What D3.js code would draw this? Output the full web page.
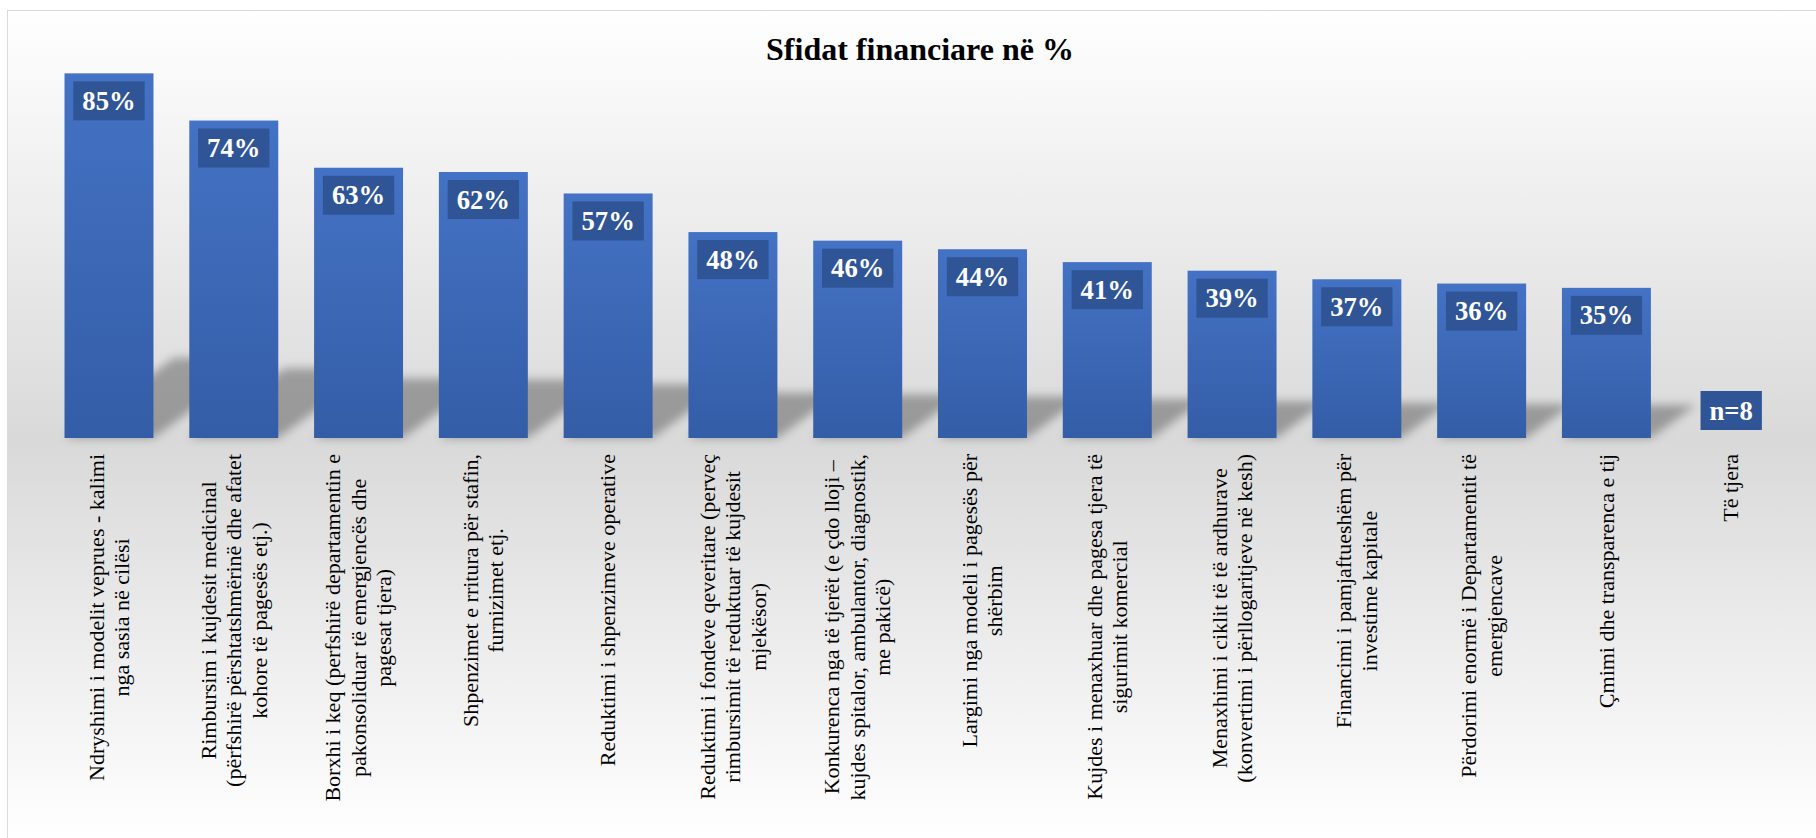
<!DOCTYPE html>
<html>
<head>
<meta charset="utf-8">
<script src="https://cdn.jsdelivr.net/npm/d3@7"></script>
<style>
  body { margin: 0; background: #ffffff; }
  svg { display: block; }
</style>
</head>
<body>
<script>
// chart data
var title = "Sfidat financiare në %";

var categories = [
    ["Ndryshimi i modelit veprues - kalimi", "nga sasia në cilësi"],
    ["Rimbursim i kujdesit medicinal", "(përfshirë përshtatshmërinë dhe afatet", "kohore të pagesës etj.)"],
    ["Borxhi i keq (perfshirë departamentin e", "pakonsoliduar të emergjencës dhe", "pagesat tjera)"],
    ["Shpenzimet e rritura për stafin,", "furnizimet etj."],
    ["Reduktimi i shpenzimeve operative"],
    ["Reduktimi i fondeve qeveritare (perveç", "rimbursimit të reduktuar të kujdesit", "mjekësor)"],
    ["Konkurenca nga të tjerët (e çdo lloji –", "kujdes spitalor, ambulantor, diagnostik,", "me pakicë)"],
    ["Largimi nga modeli i pagesës për", "shërbim"],
    ["Kujdes i menaxhuar dhe pagesa tjera të", "sigurimit komercial"],
    ["Menaxhimi i ciklit të të ardhurave", "(konvertimi i përllogaritjeve në kesh)"],
    ["Financimi i pamjaftueshëm për", "investime kapitale"],
    ["Përdorimi enormë i Departamentit të", "emergjencave"],
    ["Çmimi dhe transparenca e tij"],
    ["Të tjera"]
];

var values = [85, 74, 63, 62, 57, 48, 46, 44, 41, 39, 37, 36, 35, 0];

var dataLabels = ["85%", "74%", "63%", "62%", "57%", "48%", "46%", "44%", "41%", "39%", "37%", "36%", "35%", "n=8"];

var width = 1816, height = 838;
var serif = "'Times New Roman', 'Liberation Serif', serif";

var svg = d3.select("body").append("svg")
    .attr("width", width)
    .attr("height", height);

var defs = svg.append("defs");

// chart area background: white -> grey at the axis -> white
var bg = defs.append("linearGradient")
    .attr("id", "bg")
    .attr("gradientUnits", "userSpaceOnUse")
    .attr("x1", 0).attr("y1", 10)
    .attr("x2", 0).attr("y2", 838);
bg.append("stop").attr("offset", 0).attr("stop-color", "#ffffff");
bg.append("stop").attr("offset", 0.52).attr("stop-color", "#d9d9d9");
bg.append("stop").attr("offset", 1).attr("stop-color", "#ffffff");

var barGrad = defs.append("linearGradient")
    .attr("id", "barGrad")
    .attr("x1", 0).attr("y1", 0)
    .attr("x2", 0).attr("y2", 1);
barGrad.append("stop").attr("offset", 0).attr("stop-color", "#4472c4");
barGrad.append("stop").attr("offset", 1).attr("stop-color", "#345da7");

defs.append("filter")
    .attr("id", "blur")
    .attr("x", "-50%").attr("y", "-50%")
    .attr("width", "200%").attr("height", "200%")
  .append("feGaussianBlur")
    .attr("stdDeviation", 5);

svg.append("rect")
    .attr("x", 7.5)
    .attr("y", 10.5)
    .attr("width", 1830)
    .attr("height", 900)
    .attr("fill", "url(#bg)")
    .attr("stroke", "#d9d9d9")
    .attr("stroke-width", 1);

// scales
var x = d3.scaleBand()
    .domain(d3.range(categories.length))
    .range([46.6, 1793.6])
    .paddingInner(0.287)
    .paddingOuter(0.1435);

var y = d3.scaleLinear()
    .domain([0, 100])
    .range([438, 9]);

var base = y(0);

// title
svg.append("text")
    .attr("x", 920)
    .attr("y", 60)
    .attr("text-anchor", "middle")
    .attr("font-family", serif)
    .attr("font-weight", "bold")
    .attr("font-size", 32)
    .attr("fill", "#000000")
    .text(title);

// perspective shadows behind the bars
svg.append("g")
    .attr("class", "shadows")
    .attr("filter", "url(#blur)")
    .selectAll("path")
    .data(values.map(function(v, i) { return { v: v, i: i }; }).filter(function(d) { return d.v > 0; }))
    .enter().append("path")
    .attr("d", function(d) {
        var x0 = x(d.i), x1 = x(d.i) + x.bandwidth();
        var h = (base - y(d.v)) * 0.22;
        var dx = (base - y(d.v)) * 0.3;
        return "M" + x0 + "," + base + "L" + x1 + "," + base +
            "L" + (x1 + dx) + "," + (base - h) + "L" + (x0 + dx) + "," + (base - h) + "Z";
    })
    .attr("fill", "#000000")
    .attr("fill-opacity", 0.3);

// bars
svg.append("g")
    .attr("class", "bars")
    .selectAll("rect")
    .data(values)
    .enter().append("rect")
    .attr("x", function(d, i) { return x(i); })
    .attr("y", function(d) { return y(d); })
    .attr("width", x.bandwidth())
    .attr("height", function(d) { return base - y(d); })
    .attr("fill", "url(#barGrad)");

// data labels (dark box, white bold text)
var lab = svg.append("g")
    .attr("class", "data-labels")
    .selectAll("g")
    .data(values)
    .enter().append("g")
    .attr("transform", function(d, i) {
        var cx = x(i) + x.bandwidth() / 2;
        var top = d > 0 ? y(d) + 8 : base - 8 - 39;
        return "translate(" + cx + "," + top + ")";
    });

lab.append("rect").attr("fill", "#2f5597");

lab.append("text")
    .attr("x", 0)
    .attr("y", 28.5)
    .attr("text-anchor", "middle")
    .attr("font-family", serif)
    .attr("font-weight", "bold")
    .attr("font-size", 26.67)
    .attr("fill", "#ffffff")
    .text(function(d, i) { return dataLabels[i]; });

lab.each(function() {
    var g = d3.select(this);
    var w = g.select("text").node().getComputedTextLength() + 18;
    g.select("rect")
        .attr("x", -w / 2)
        .attr("y", 0)
        .attr("width", w)
        .attr("height", 39);
});

// category labels, rotated, lines centred, block top-aligned under the axis
var lineH = 25.5;
var cat = svg.append("g")
    .attr("class", "categories")
    .selectAll("g")
    .data(categories)
    .enter().append("g")
    .attr("transform", function(d, i) {
        return "translate(" + (x(i) + x.bandwidth() / 2) + ",454) rotate(-90)";
    });

cat.each(function(lines) {
    var g = d3.select(this);
    var texts = g.selectAll("text")
        .data(lines)
        .enter().append("text")
        .attr("text-anchor", "middle")
        .attr("font-family", serif)
        .attr("font-size", 22)
        .attr("fill", "#000000")
        .attr("y", function(d, j) { return (j - (lines.length - 1) / 2) * lineH; })
        .attr("dy", "0.33em")
        .text(function(d) { return d; });
    var maxW = 0;
    texts.each(function() { maxW = Math.max(maxW, this.getComputedTextLength()); });
    texts.attr("x", -maxW / 2);
});
</script>
</body>
</html>
